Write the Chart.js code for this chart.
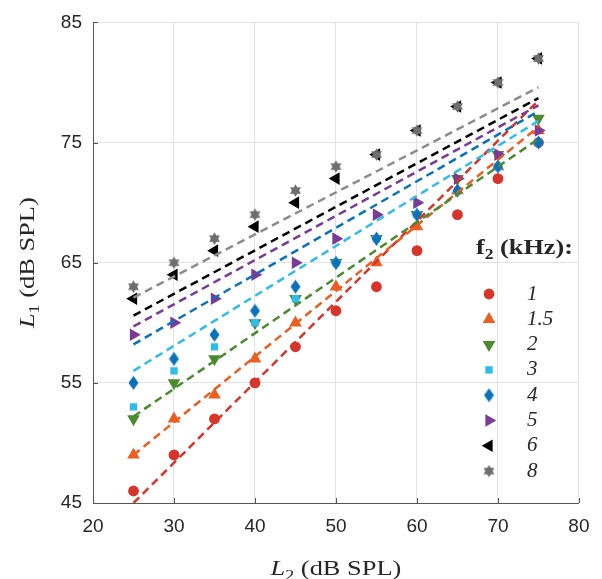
<!DOCTYPE html>
<html>
<head>
<meta charset="utf-8">
<script src="https://cdn.jsdelivr.net/npm/chart.js@4.4.1/dist/chart.umd.min.js"></script>
<style>
  html, body { margin: 0; padding: 0; background: #fff; }
</style>
</head>
<body>
<canvas id="chart" width="602" height="579"></canvas>
<script>
// L2 levels (dB SPL), shared x values of every series
const levelsL2 = [25, 30, 35, 40, 45, 50, 55, 60, 65, 70, 75];

// measured L1 (dB SPL) for each f2
const l1At1k = [46, 49, 52, 55, 58, 61, 63, 66, 69, 72, 75];
const l1At1k5 = [49, 52, 54, 57, 60, 63, 65, 68, 71, 73, 76];
const l1At2k = [52, 55, 57, 60, 62, 65, 67, 69, 72, 74, 77];
const l1At3k = [53, 56, 58, 60, 62, 65, 67, 69, 71, 73, 75];
const l1At4k = [55, 57, 59, 61, 63, 65, 67, 69, 71, 73, 75];
const l1At5k = [59, 60, 62, 64, 65, 67, 69, 70, 72, 74, 76];
const l1At6k = [62, 64, 66, 68, 70, 72, 74, 76, 78, 80, 82];
const l1At8k = [63, 65, 67, 69, 71, 73, 74, 76, 78, 80, 82];

// dashed fit lines, L1 read at both ends
const fitL2 = [25, 75];
const fit1k = [45.0, 78.5];
const fit1k5 = [49.0, 76.3];
const fit2k = [52.2, 75.3];
const fit3k = [56.0, 76.8];
const fit4k = [58.2, 77.6];
const fit5k = [59.7, 78.1];
const fit6k = [60.6, 78.7];
const fit8k = [62.1, 79.6];

const f2Labels = ["1", "1.5", "2", "3", "4", "5", "6", "8"];
const xTicks = [20, 30, 40, 50, 60, 70, 80];
const yTicks = [45, 55, 65, 75, 85];

const series = [l1At1k, l1At1k5, l1At2k, l1At3k, l1At4k, l1At5k, l1At6k, l1At8k];
const fits = [fit1k, fit1k5, fit2k, fit3k, fit4k, fit5k, fit6k, fit8k];

const colors = ["#d7352b", "#eb5e22", "#4b8a2e", "#2ebdeb", "#0a72bd", "#7a3a96", "#000000", "#6e6e6e"];
const lineColors = ["#d7352b", "#eb5e22", "#4b8a2e", "#2ebdeb", "#0a72bd", "#7a3a96", "#000000", "#8c8c8c"];

const axisColor = "#555555";
const gridColor = "#dfe3e6";
const textColor = "#262626";

// small canvases for marker shapes Chart.js does not have
function markerCanvas(w, h, color, path) {
  const c = document.createElement("canvas");
  c.width = w;
  c.height = h;
  const g = c.getContext("2d");
  g.fillStyle = color;
  g.beginPath();
  path(g, w, h);
  g.closePath();
  g.fill();
  return c;
}

const diamond = markerCanvas(11, 15, colors[4], (g, w, h) => {
  g.moveTo(w / 2, 0.5);
  g.lineTo(w - 0.5, h / 2);
  g.lineTo(w / 2, h - 0.5);
  g.lineTo(0.5, h / 2);
});

const hexagram = markerCanvas(13, 13, colors[7], (g, w, h) => {
  const ro = 6.3;
  const ri = ro / Math.sqrt(3);
  for (let k = 0; k < 12; k++) {
    const a = (k * Math.PI) / 6;
    const r = k % 2 === 0 ? ro : ri;
    const px = w / 2 + r * Math.sin(a);
    const py = h / 2 - r * Math.cos(a);
    if (k === 0) g.moveTo(px, py);
    else g.lineTo(px, py);
  }
});

const markers = [
  { style: "circle", radius: 5.4, rotation: 0 },
  { style: "triangle", radius: 7.3, rotation: 0 },
  { style: "triangle", radius: 7.3, rotation: 180 },
  { style: "rect", radius: 5.2, rotation: 0 },
  { style: diamond, radius: 6, rotation: 0 },
  { style: "triangle", radius: 7.3, rotation: 90 },
  { style: "triangle", radius: 7.3, rotation: -90 },
  { style: hexagram, radius: 6, rotation: 0 },
];

const datasets = [];
series.forEach((vals, i) => {
  datasets.push({
    label: f2Labels[i],
    data: levelsL2.map((x, j) => ({ x, y: vals[j] })),
    showLine: false,
    pointStyle: markers[i].style,
    pointRadius: markers[i].radius,
    pointRotation: markers[i].rotation,
    pointBackgroundColor: colors[i],
    pointBorderWidth: 0,
    order: 20 - i,
  });
});
fits.forEach((ends, i) => {
  datasets.push({
    label: "fit " + f2Labels[i],
    data: fitL2.map((x, j) => ({ x, y: ends[j] })),
    showLine: true,
    borderColor: lineColors[i],
    borderWidth: 2.5,
    borderDash: [8, 5],
    pointRadius: 0,
    fill: false,
    order: 8 - i,
  });
});

// text with a subscript, optionally stretched sideways
function drawRich(ctx, parts, x, y, align, stretch) {
  let total = 0;
  parts.forEach((p) => {
    ctx.font = p.font;
    p.w = ctx.measureText(p.text).width;
    total += p.w;
  });
  ctx.save();
  ctx.translate(x, y);
  ctx.scale(stretch, 1);
  let cx = align === "right" ? -total : align === "center" ? -total / 2 : 0;
  parts.forEach((p) => {
    ctx.font = p.font;
    ctx.fillText(p.text, cx, p.dy || 0);
    cx += p.w;
  });
  ctx.restore();
}

const axisTitle = (sub) => [
  { text: "L", font: 'italic 22px "Liberation Serif"' },
  { text: sub, font: '15px "Liberation Serif"', dy: 5 },
  { text: " (dB SPL)", font: '22px "Liberation Serif"' },
];

const decorations = {
  id: "decorations",
  afterDraw(chart) {
    const { ctx, chartArea, scales } = chart;
    ctx.save();

    // inward tick marks
    ctx.strokeStyle = axisColor;
    ctx.lineWidth = 1;
    ctx.beginPath();
    xTicks.forEach((v) => {
      const px = Math.round(scales.x.getPixelForValue(v)) + 0.5;
      ctx.moveTo(px, chartArea.bottom);
      ctx.lineTo(px, chartArea.bottom - 5);
    });
    yTicks.forEach((v) => {
      const py = Math.round(scales.y.getPixelForValue(v)) + 0.5;
      ctx.moveTo(chartArea.left, py);
      ctx.lineTo(chartArea.left + 5, py);
    });
    ctx.stroke();

    // axis titles
    ctx.fillStyle = textColor;
    ctx.textBaseline = "alphabetic";
    drawRich(ctx, axisTitle("2"), (chartArea.left + chartArea.right) / 2, 575, "center", 1.2);
    ctx.save();
    ctx.translate(34, (chartArea.top + chartArea.bottom) / 2);
    ctx.rotate(-Math.PI / 2);
    drawRich(ctx, axisTitle("1"), 0, 0, "center", 1.2);
    ctx.restore();

    // legend
    drawRich(ctx, [
      { text: "f", font: 'bold 21px "Liberation Serif"' },
      { text: "2", font: 'bold 14px "Liberation Serif"', dy: 5 },
      { text: " (kHz):", font: 'bold 21px "Liberation Serif"' },
    ], 573, 254, "right", 1.25);

    f2Labels.forEach((lab, i) => {
      const rowY = 294 + i * 25.3;
      ctx.fillStyle = colors[i];
      Chart.helpers.drawPoint(ctx, {
        pointStyle: markers[i].style,
        radius: markers[i].radius,
        rotation: markers[i].rotation,
        borderWidth: 0,
      }, 489, rowY);
      ctx.fillStyle = textColor;
      ctx.font = 'italic 21px "Liberation Serif"';
      ctx.textBaseline = "middle";
      ctx.textAlign = "left";
      ctx.fillText(lab, 527, rowY);
    });
    ctx.restore();
  },
};

new Chart(document.getElementById("chart"), {
  type: "scatter",
  data: { datasets },
  options: {
    responsive: false,
    animation: false,
    layout: { padding: { top: 15, right: 21, bottom: 0, left: 0 } },
    plugins: {
      legend: { display: false },
      tooltip: { enabled: false },
    },
    scales: {
      x: {
        type: "linear",
        min: 20,
        max: 80,
        afterBuildTicks: (s) => { s.ticks = xTicks.map((v) => ({ value: v })); },
        afterFit: (s) => { s.height = 76; },
        grid: { color: gridColor, drawTicks: false },
        border: { display: true, color: axisColor, width: 1 },
        ticks: {
          padding: 12.5,
          color: textColor,
          maxRotation: 0,
          font: { family: "Liberation Sans", size: 19 },
        },
      },
      y: {
        type: "linear",
        min: 45,
        max: 85,
        afterBuildTicks: (s) => { s.ticks = yTicks.map((v) => ({ value: v })); },
        afterFit: (s) => { s.width = 93; },
        grid: { color: gridColor, drawTicks: false },
        border: { display: true, color: axisColor, width: 1 },
        ticks: {
          padding: 11,
          color: textColor,
          font: { family: "Liberation Sans", size: 19 },
        },
      },
    },
  },
  plugins: [decorations],
});
</script>
</body>
</html>
